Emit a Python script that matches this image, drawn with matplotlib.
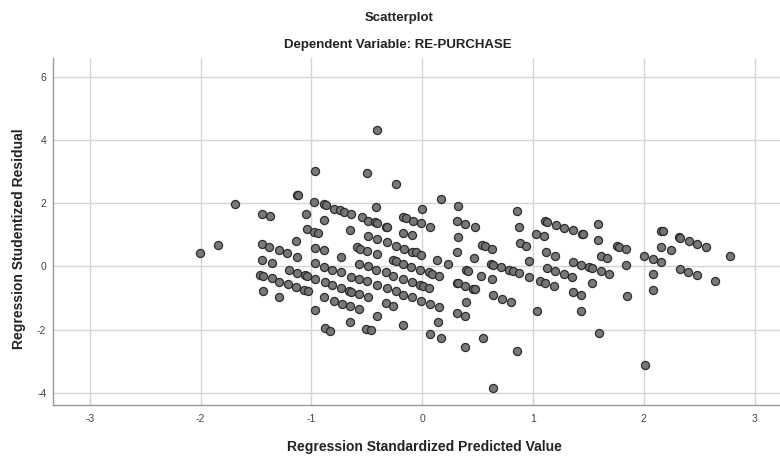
import matplotlib
matplotlib.use('Agg')
import matplotlib.pyplot as plt

plt.rcParams.update({
    'font.family': ['Liberation Sans', 'DejaVu Sans'],
    'font.size': 7,
    'axes.unicode_minus': False,
})

# 回归标准化预测值 (x) 与 学生化残差 (y), 读自原图
pred_std = [
    -2.01, -1.84, -1.69, -1.45, -1.37, -1.45, -1.38, -1.29, -1.22, -1.14,
    -1.13, -1.45, -1.36, -1.20, -1.13, -1.06, -1.04, -0.97, -1.46, -1.44,
    -1.36, -1.29, -1.21, -1.14, -1.07, -1.03, -1.44, -1.29, -0.97, -1.13,
    -1.12, -1.05, -0.98, -1.04, -0.98, -0.94, -0.97, -0.97, -0.97, -0.89,
    -0.87, -0.80, -0.74, -0.71, -0.64, -0.89, -0.54, -0.49, -0.43, -0.41,
    -0.65, -0.49, -0.41, -0.89, -0.59, -0.56, -0.50, -0.41, -0.73, -0.57,
    -0.49, -0.42, -0.89, -0.81, -0.73, -0.64, -0.57, -0.50, -0.41, -0.88,
    -0.81, -0.73, -0.66, -0.64, -0.57, -0.49, -0.89, -0.80, -0.72, -0.65,
    -0.57, -0.41, -0.88, -0.83, -0.65, -0.51, -0.46, -0.17, 0.14, 0.07,
    0.17, -0.41, -0.50, -0.24, -0.42, 0.00, 0.17, -0.17, -0.15, -0.08,
    -0.01, 0.07, -0.33, -0.32, -0.17, -0.09, -0.32, -0.24, -0.16, -0.09,
    -0.06, -0.01, 0.13, 0.23, -0.26, -0.24, -0.17, -0.10, -0.02, 0.06,
    0.09, 0.15, -0.33, -0.26, -0.17, -0.09, -0.02, 0.01, 0.06, -0.32,
    -0.24, -0.17, -0.09, -0.01, 0.07, 0.15, -0.33, -0.26, 0.32, 0.31,
    0.39, 0.48, 0.32, 0.31, 0.47, 0.54, 0.57, 0.63, 0.62, 0.64,
    0.71, 0.78, 0.82, 0.87, 0.96, 0.96, 0.86, 0.87, 0.88, 0.94,
    1.03, 1.10, 1.11, 1.13, 1.21, 1.28, 1.36, 1.44, 1.45, 1.59,
    1.12, 1.20, 1.13, 1.20, 1.28, 1.35, 1.06, 1.11, 1.19, 1.36,
    1.43, 1.51, 1.53, 1.61, 1.69, 1.59, 1.61, 1.67, 1.53, 1.36,
    1.43, 1.04, 1.43, 1.60, 0.40, 0.41, 0.53, 0.63, 0.31, 0.32,
    0.39, 0.46, 0.48, 0.64, 0.72, 0.80, 0.40, 0.31, 0.39, 0.39,
    0.55, 0.86, 0.64, 2.01, 1.76, 1.78, 1.84, 1.84, 1.85, 2.00,
    2.08, 2.16, 2.08, 2.08, 2.16, 2.17, 2.16, 2.25, 2.32, 2.33,
    2.41, 2.48, 2.56, 2.33, 2.40, 2.48, 2.64, 2.78,
]
resid_stud = [
    0.41, 0.69, 1.98, 1.66, 1.58, 0.70, 0.61, 0.51, 0.41, 0.80,
    0.30, 0.21, 0.11, -0.10, -0.20, -0.27, -0.29, -0.40, -0.27, -0.29,
    -0.38, -0.48, -0.57, -0.66, -0.76, -0.79, -0.78, -0.96, -1.37, 2.26,
    2.25, 1.66, 2.05, 1.18, 1.10, 1.07, 0.59, 0.11, 3.02, 1.96,
    1.94, 1.83, 1.77, 1.73, 1.66, 1.47, 1.55, 1.45, 1.40, 1.37,
    1.16, 0.95, 0.88, 0.51, 0.61, 0.56, 0.50, 0.38, 0.30, 0.09,
    0.00, -0.10, -0.02, -0.10, -0.19, -0.32, -0.40, -0.47, -0.59, -0.48,
    -0.59, -0.67, -0.78, -0.80, -0.87, -0.98, -0.98, -1.09, -1.18, -1.26,
    -1.35, -1.56, -1.96, -2.04, -1.76, -1.98, -2.01, -1.86, -1.77, -2.15,
    -2.27, 4.32, 2.95, 2.61, 1.88, 1.83, 2.12, 1.55, 1.52, 1.43,
    1.36, 1.25, 1.26, 1.24, 1.07, 0.98, 0.78, 0.66, 0.55, 0.47,
    0.44, 0.37, 0.21, 0.09, 0.20, 0.18, 0.09, -0.01, -0.10, -0.18,
    -0.23, -0.30, -0.19, -0.29, -0.39, -0.48, -0.58, -0.63, -0.68, -0.68,
    -0.79, -0.89, -0.98, -1.08, -1.18, -1.28, -1.16, -1.26, 1.92, 1.44,
    1.35, 1.23, 0.94, 0.47, 0.27, 0.68, 0.63, 0.56, 0.09, 0.05,
    -0.03, -0.10, -0.15, -0.22, 0.16, -0.34, 1.75, 1.25, 0.74, 0.66,
    1.04, 0.96, 1.43, 1.41, 1.31, 1.22, 1.14, 1.03, 1.01, 1.33,
    0.44, 0.34, -0.05, -0.14, -0.23, -0.33, -0.45, -0.52, -0.62, 0.14,
    0.05, -0.02, -0.05, -0.15, -0.25, 0.83, 0.33, 0.25, -0.54, -0.82,
    -0.92, -1.41, -1.41, -2.10, -0.10, -0.13, -0.29, -0.41, -0.51, -0.52,
    -0.61, -0.70, -0.71, -0.92, -1.02, -1.12, -1.12, -1.47, -1.57, -2.55,
    -2.26, -2.66, -3.83, -3.11, 0.63, 0.61, 0.55, 0.04, -0.95, 0.34,
    0.23, 0.13, -0.25, -0.75, 1.13, 1.11, 0.62, 0.52, 0.93, 0.91,
    0.81, 0.72, 0.62, -0.07, -0.18, -0.26, -0.46, 0.32,
]

x_ticks = [-3, -2, -1, 0, 1, 2, 3]
y_ticks = [-4, -2, 0, 2, 4, 6]

fig = plt.figure(figsize=(7.8, 4.59), dpi=100)
ax = fig.add_axes([0.0683, 0.1185, 0.9317, 0.7545])

ax.scatter(pred_std, resid_stud, s=34, facecolor='#727272', edgecolor='#262626',
           linewidth=0.9, alpha=0.95, zorder=3)

ax.set_xlim(-3.33, 3.23)
ax.set_ylim(-4.37, 6.58)
ax.set_xticks(x_ticks)
ax.set_yticks(y_ticks)
ax.grid(True, color='#d4d4d4', linewidth=1.0, zorder=0)
ax.set_axisbelow(True)
ax.tick_params(length=0, colors='#444444', labelsize=7.5)
ax.tick_params(axis='x', pad=7)
ax.tick_params(axis='y', pad=5)

for side in ('top', 'right'):
    ax.spines[side].set_visible(False)
for side in ('left', 'bottom'):
    ax.spines[side].set_color('#999999')
    ax.spines[side].set_linewidth(1.0)

fig.text(399 / 780, 1 - 18 / 459, 'Scatterplot', ha='center', va='center',
         fontsize=9.5, fontweight='bold', color='#222222')
fig.text(398 / 780, 1 - 45 / 459, 'Dependent Variable: RE-PURCHASE', ha='center',
         va='center', fontsize=9.5, fontweight='bold', color='#222222')
fig.text(424 / 780, 1 - 447 / 459, 'Regression Standardized Predicted Value',
         ha='center', va='center', fontsize=10, fontweight='bold', color='#222222')
fig.text(19 / 780, 1 - 239 / 459, 'Regression Studentized Residual', ha='center',
         va='center', rotation=90, fontsize=10, fontweight='bold', color='#222222')

fig.savefig('out.png', dpi=100, facecolor='white')
